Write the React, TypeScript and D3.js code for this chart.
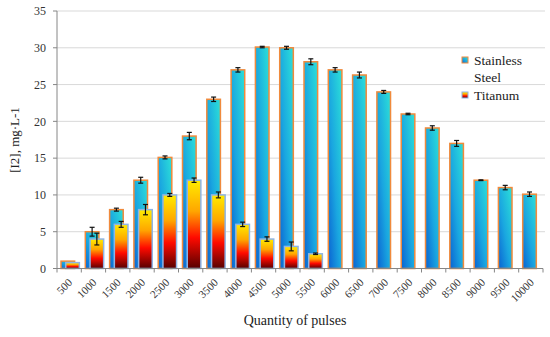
import React from "react";
import * as d3 from "d3";

const categories = ["500","1000","1500","2000","2500","3000","3500","4000","4500","5000","5500","6000","6500","7000","7500","8000","8500","9000","9500","10000"];
const steelValues = [1, 5, 8, 12, 15.1, 18, 23, 27, 30.1, 30, 28.1, 27, 26.3, 24, 21, 19.1, 17, 12, 11, 10.1];
const steelErrors = [0, 0.6, 0.2, 0.4, 0.2, 0.5, 0.3, 0.3, 0.1, 0.2, 0.4, 0.3, 0.4, 0.2, 0.1, 0.3, 0.4, 0.05, 0.3, 0.3];
const titanValues = [0.8, 4, 6, 8, 10, 12, 10, 6, 4, 3, 2];
const titanErrors = [0, 0.8, 0.4, 0.7, 0.2, 0.3, 0.4, 0.3, 0.3, 0.6, 0.1];
const yTicks = [0, 5, 10, 15, 20, 25, 30, 35];

const W = 550, H = 337;
const L = 57, R = 543, T = 11, B = 268.5;
const FONT = "Liberation Serif, DejaVu Serif, serif";

export default function App() {
  const x = d3.scaleBand<string>().domain(categories).range([L, R]).padding(0);
  const y = d3.scaleLinear().domain([0, 35]).range([B, T]);
  const bw = x.bandwidth();
  const barW = bw * 0.56;
  const steelOff = bw * 0.165;
  const titanOff = bw * 0.36;

  const errBar = (cx: number, v: number, e: number, key: string) => {
    if (!e) return null;
    const y1 = y(v + e), y2 = y(v - e);
    return (
      <g key={key} stroke="#111" strokeWidth={1.2}>
        <line x1={cx} x2={cx} y1={y1} y2={y2} />
        <line x1={cx - 2.5} x2={cx + 2.5} y1={y1} y2={y1} />
        <line x1={cx - 2.5} x2={cx + 2.5} y1={y2} y2={y2} />
      </g>
    );
  };

  return (
    <svg width={W} height={H} style={{ position: "absolute", left: 0, top: 0, background: "#fff", fontFamily: FONT }}>
      <defs>
        <linearGradient id="steel" x1="0" y1="1" x2="1" y2="0">
          <stop offset="0" stopColor="#0a62d2" />
          <stop offset="0.45" stopColor="#1aa6e0" />
          <stop offset="1" stopColor="#2ce0d8" />
        </linearGradient>
        <linearGradient id="titan" x1="0" y1="0" x2="0" y2="1">
          <stop offset="0" stopColor="#ffec00" />
          <stop offset="0.35" stopColor="#ffa600" />
          <stop offset="0.65" stopColor="#ff0a00" />
          <stop offset="1" stopColor="#560000" />
        </linearGradient>
      </defs>
      {yTicks.filter(t => t > 0).map(t => (
        <line key={"g" + t} x1={L} x2={R + 2} y1={y(t)} y2={y(t)} stroke="#d9d9d9" strokeWidth={1} />
      ))}
      {yTicks.map(t => (
        <g key={"yt" + t}>
          <line x1={L - 4} x2={L} y1={y(t)} y2={y(t)} stroke="#868686" />
          <text x={L - 11} y={y(t)} dy="0.35em" textAnchor="end" style={{ fontFamily: FONT }} fontSize={12} fill="#333">{t}</text>
        </g>
      ))}
      {categories.map((c, i) => {
        const x0 = x(c)!;
        return (
          <g key={"b" + c}>
            <rect x={x0 + steelOff} y={y(steelValues[i])} width={barW} height={B - y(steelValues[i])}
              fill="url(#steel)" stroke="#f08a3c" strokeWidth={1.5} />
            {i < titanValues.length && (
              <rect x={x0 + titanOff} y={y(titanValues[i])} width={barW} height={B - y(titanValues[i])}
                fill="url(#titan)" stroke="#8fb4e6" strokeWidth={1.5} />
            )}
          </g>
        );
      })}
      {categories.map((c, i) => {
        const x0 = x(c)!;
        return (
          <g key={"e" + c}>
            {errBar(x0 + steelOff + barW / 2, steelValues[i], steelErrors[i], "se" + c)}
            {i < titanValues.length && errBar(x0 + titanOff + barW / 2, titanValues[i], titanErrors[i], "te" + c)}
          </g>
        );
      })}
      <line x1={L} x2={L} y1={T} y2={B} stroke="#868686" strokeWidth={1} />
      <line x1={L} x2={R} y1={B} y2={B} stroke="#868686" strokeWidth={1} />
      {categories.map(c => (
        <line key={"xt" + c} x1={x(c)!} x2={x(c)!} y1={B} y2={B + 4} stroke="#868686" />
      ))}
      <line x1={R} x2={R} y1={B} y2={B + 4} stroke="#868686" />
      {categories.map(c => {
        const cx = x(c)! + bw / 2 + 1;
        const cy = B + 12;
        return (
          <text key={"xl" + c} transform={`translate(${cx},${cy}) rotate(-45)`} textAnchor="end" dy="0.35em"
            style={{ fontFamily: FONT }} fontSize={11} fill="#333">{c}</text>
        );
      })}
      <text x={295} y={325} textAnchor="middle" style={{ fontFamily: FONT }} fontSize={14} fill="#222">Quantity of pulses</text>
      <text transform={`translate(19,140) rotate(-90)`} textAnchor="middle" style={{ fontFamily: FONT }} fontSize={13} fill="#222">[I2], mg·L-1</text>
      <rect x={462} y={57} width={6} height={6} fill="url(#steel)" stroke="#f08a3c" strokeWidth={1} />
      <text x={474} y={60} dy="0.35em" style={{ fontFamily: FONT }} fontSize={13.5} fill="#222">Stainless</text>
      <text x={474} y={77} dy="0.35em" style={{ fontFamily: FONT }} fontSize={13.5} fill="#222">Steel</text>
      <rect x={462} y={92} width={6} height={6} fill="url(#titan)" stroke="#8fb4e6" strokeWidth={1} />
      <text x={474} y={95} dy="0.35em" style={{ fontFamily: FONT }} fontSize={13.5} fill="#222">Titanum</text>
    </svg>
  );
}
